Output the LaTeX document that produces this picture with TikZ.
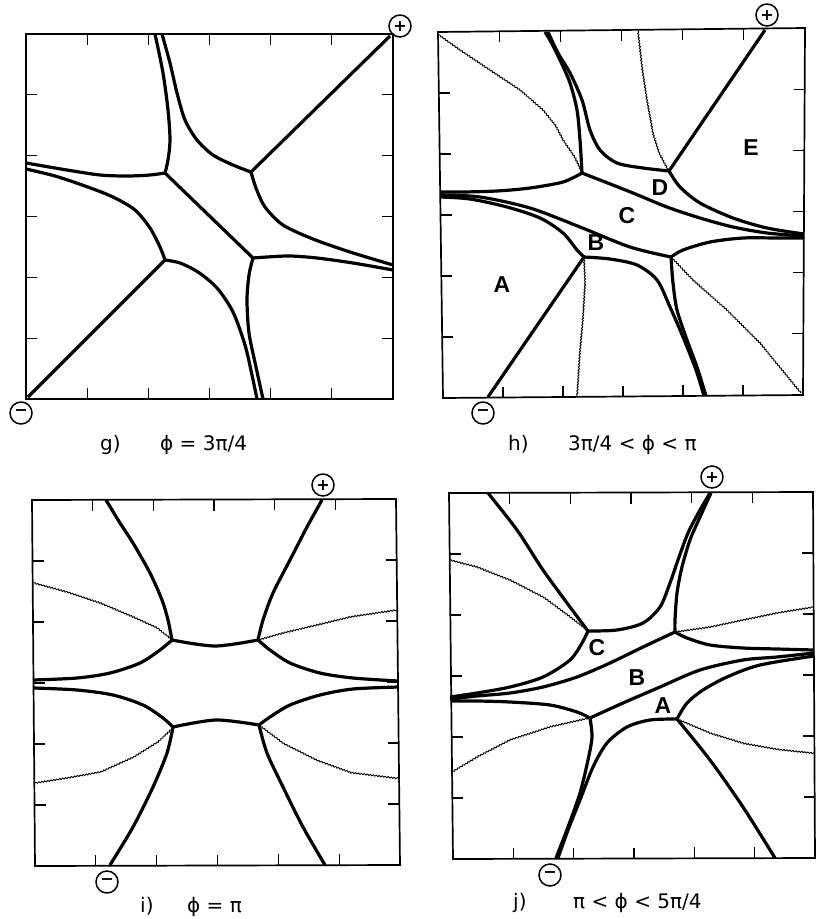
\documentclass[tikz,border=0pt]{standalone}
\usepackage{fontspec}
\setmainfont{DejaVu Sans}
\newfontfamily\regionfont{Liberation Sans}
\usetikzlibrary{calc,decorations.pathmorphing}
\newcommand\myframe[4]{%
  \draw[frame] #1 -- #2 -- #3 -- #4 -- cycle;
  \foreach \k in {1,...,5}{
    \draw[tickmark] ($#1!\k/6!#2$) -- ++(0,11);
    \draw[tickmark] ($#4!\k/6!#3$) -- ++(0,-11);
    \draw[tickmark] ($#1!\k/6!#4$) -- ++(11,0);
    \draw[tickmark] ($#2!\k/6!#3$) -- ++(-11,0);
  }}
\begin{document}
\begin{tikzpicture}[x=1pt,y=-1pt,
  frame/.style={line width=1.7pt, line join=miter},
  curve/.style={line width=3.2pt, line join=round},
  wavy/.style={line width=0.9pt, line join=round, decorate, decoration={snake, amplitude=0.7pt, segment length=3pt}},
  tickmark/.style={line width=1.3pt},
  pole/.style={circle, draw, line width=1.5pt, minimum size=22pt, inner sep=0pt, font=\bfseries\fontsize{16}{16}\selectfont},
  region/.style={font=\regionfont\bfseries\fontsize{23}{23}\selectfont},
  capt/.style={font=\fontsize{20}{20}\selectfont, anchor=base west, inner sep=0pt}
]
\useasboundingbox (0,0) rectangle (818,919);

% ================= panel g =================
\myframe{(26,34)}{(393,34)}{(393,399)}{(26,399)}
\coordinate (g1) at (165,173);
\coordinate (g2) at (251,172);
\coordinate (g3) at (165,260);
\coordinate (g4) at (253,258);
\coordinate (gP) at (390,36);
\coordinate (gM) at (28,397);
\draw[curve] (g3) -- (gM);
\draw[curve] (g2) -- (gP);
\draw[curve] (g1) -- (g4);
\draw[curve] plot[smooth] coordinates {(g2) (233,165) (213,155) (197,140) (185,120) (177,93) (170,63) (162,34)};
\draw[curve] plot[smooth] coordinates {(g1) (168,160) (170,140) (168,110) (163,73) (155,34)};
\draw[curve] plot[smooth] coordinates {(g1) (150,175) (127,176) (100,175) (67,170) (26,163)};
\draw[curve] plot[smooth] coordinates {(g3) (160,247) (150,228) (135,210) (113,197) (85,186) (55,176) (26,169)};
\draw[curve] plot[smooth] coordinates {(g3) (180,263) (198,272) (217,288) (233,312) (245,345) (252,375) (257,399)};
\draw[curve] plot[smooth] coordinates {(g2) (256,188) (265,207) (283,225) (313,239) (350,252) (393,265)};
\draw[curve] plot[smooth] coordinates {(g4) (267,257) (290,256) (317,258) (353,263) (393,270)};
\draw[curve] plot[smooth] coordinates {(g4) (249,275) (247,300) (249,333) (256,367) (263,399)};
\node[pole] (gplus) at (400,26) {+};
\node[pole] (gminus) at (21,413) {\raisebox{1pt}{−}};
\node[capt] (gl) at (100,450) {g)};
\node[capt] (gt) at (160,450) {ϕ = 3π/4};

% ================= panel h =================
\myframe{(438,32)}{(805,28)}{(803,395)}{(443,398)}
\coordinate (hD) at (669,171);
\coordinate (hU) at (582,173);
\coordinate (hB) at (584,257);
\coordinate (hR) at (671,257);
\coordinate (hP) at (765,30);
\coordinate (hM) at (488,397);
\draw[curve] (hD) -- (hP);
\draw[curve] (hB) -- (hM);
\draw[curve] plot[smooth] coordinates {(hD) (643,168) (617,163) (600,150) (590,130) (582,100) (570,73) (558,53) (548,32)};
\draw[curve] plot[smooth] coordinates {(hU) (580,140) (577,110) (570,83) (560,60) (551,42) (545,32)};
\draw[curve] plot[smooth] coordinates {(hU) (563,182) (530,188) (497,191) (463,192) (440,192)};
\draw[curve] plot[smooth] coordinates {(hU) (600,180) (633,193) (667,207) (700,218) (733,227) (767,233) (804,236)};
\draw[curve] plot[smooth] coordinates {(hD) (680,187) (700,203) (733,218) (767,228) (804,234)};
\draw[curve] plot[smooth] coordinates {(440,195) (480,197) (530,208) (580,227) (630,247) (hR)};
\draw[curve] plot[smooth] coordinates {(hB) (577,250) (563,233) (540,218) (507,207) (470,199) (440,197)};
\draw[curve] plot[smooth] coordinates {(hR) (683,250) (710,242) (743,238) (777,238) (804,238)};
\draw[curve] plot[smooth] coordinates {(hB) (610,259) (637,265) (657,280) (670,307) (683,337) (696,370) (704,396)};
\draw[curve] plot[smooth] coordinates {(hR) (673,283) (677,310) (687,340) (697,367) (706,396)};
\draw[wavy] (439,35) -- (460,50) -- (493,72) -- (520,90) -- (543,110) -- (555,125) -- (563,140) -- (574,156) -- (hU);
\draw[wavy] (638,31) -- (642,67) -- (647,100) -- (653,133) -- (659,152) -- (hD);
\draw[wavy] (hB) -- (585,283) -- (583,317) -- (580,350) -- (577,396);
\draw[wavy] (hR) -- (693,280) -- (727,310) -- (760,343) -- (801,393);
\node[region] (hE) at (751,148) {E};
\node[region] (hDl) at (660,188) {D};
\node[region] (hCl) at (627,216) {C};
\node[region] (hBl) at (596,243) {B};
\node[region] (hAl) at (502,285) {A};
\node[pole] (hplus) at (767,15) {+};
\node[pole] (hminus) at (483,413) {\raisebox{1pt}{−}};
\node[capt] (hl) at (508,450) {h)};
\node[capt] (ht) at (568,450) {3π/4 < ϕ < π};

% ================= panel i =================
\myframe{(32,500)}{(396,499)}{(400,865)}{(35,866)}
\coordinate (iUL) at (172,640);
\coordinate (iUR) at (258,640);
\coordinate (iLL) at (173,727);
\coordinate (iLR) at (259,725);
\draw[curve] plot[smooth] coordinates {(iUL) (215,646) (iUR)};
\draw[curve] plot[smooth] coordinates {(iLL) (216,720) (iLR)};
\draw[curve] plot[smooth] coordinates {(iUL) (168,620) (162,600) (150,573) (133,543) (120,523) (106,500)};
\draw[curve] plot[smooth] coordinates {(iUR) (263,620) (273,593) (290,560) (307,527) (322,500)};
\draw[curve] plot[smooth] coordinates {(iUL) (160,650) (140,663) (110,673) (77,678) (33,680)};
\draw[curve] plot[smooth] coordinates {(iUR) (270,650) (290,663) (320,673) (353,678) (398,681)};
\draw[curve] plot[smooth] coordinates {(iLL) (163,718) (143,705) (113,695) (77,690) (34,688)};
\draw[curve] plot[smooth] coordinates {(iLR) (270,717) (290,705) (320,695) (353,689) (399,687)};
\draw[curve] plot[smooth] coordinates {(iLL) (167,753) (153,787) (133,827) (110,865)};
\draw[curve] plot[smooth] coordinates {(iLR) (267,753) (283,787) (303,827) (325,865)};
\draw[wavy] (34,583) -- (67,592) -- (100,603) -- (133,617) -- (157,628) -- (iUL);
\draw[wavy] (iUR) -- (283,633) -- (317,625) -- (350,617) -- (397,610);
\draw[wavy] (35,783) -- (67,778) -- (100,772) -- (133,757) -- (157,742) -- (iLL);
\draw[wavy] (iLR) -- (283,743) -- (317,760) -- (350,772) -- (399,778);
\node[pole] (iplus) at (323,485) {+};
\node[pole] (iminus) at (107,882) {\raisebox{1pt}{−}};
\node[capt] (il) at (140,912) {i)};
\node[capt] (it) at (187,912) {ϕ = π};

% ================= panel j =================
\myframe{(449,493)}{(813,492)}{(815,858)}{(453,859)}
\coordinate (jC) at (588,631);
\coordinate (jU) at (675,632);
\coordinate (jL) at (590,718);
\coordinate (jA) at (677,719);
\draw[curve] plot[smooth] coordinates {(jC) (570,607) (543,570) (517,530) (488,493)};
\draw[curve] plot[smooth] coordinates {(jC) (617,630) (643,623) (660,607) (670,583) (678,560) (688,533) (700,510) (710,493)};
\draw[curve] plot[smooth] coordinates {(jU) (675,620) (677,593) (682,567) (690,540) (700,517) (711,493)};
\draw[curve] plot[smooth] coordinates {(jC) (582,643) (570,660) (543,677) (510,687) (477,693) (450,697)};
\draw[curve] plot[smooth] coordinates {(jU) (643,647) (610,663) (577,677) (543,687) (510,693) (477,696) (450,699)};
\draw[curve] plot[smooth] coordinates {(jL) (623,703) (660,687) (700,670) (743,660) (777,657) (814,653)};
\draw[curve] plot[smooth] coordinates {(jU) (687,638) (710,645) (743,648) (777,649) (814,650)};
\draw[curve] plot[smooth] coordinates {(jA) (687,703) (703,690) (727,677) (760,665) (814,656)};
\draw[curve] plot[smooth] coordinates {(jL) (577,712) (550,705) (510,702) (477,701) (451,701)};
\draw[curve] plot[smooth] coordinates {(jL) (592,737) (588,760) (580,793) (568,827) (556,858)};
\draw[curve] plot[smooth] coordinates {(jA) (650,720) (627,727) (607,743) (593,767) (580,800) (568,830) (558,858)};
\draw[curve] plot[smooth] coordinates {(jA) (710,760) (743,807) (775,858)};
\draw[wavy] (450,560) -- (477,567) -- (510,580) -- (543,597) -- (570,617) -- (jC);
\draw[wavy] (jU) -- (710,627) -- (743,620) -- (777,613) -- (814,607);
\draw[wavy] (452,772) -- (477,757) -- (510,740) -- (550,727) -- (jL);
\draw[wavy] (jA) -- (710,733) -- (743,743) -- (777,749) -- (815,753);
\node[region] (jCl) at (597,648) {C};
\node[region] (jBl) at (637,678) {B};
\node[region] (jAl) at (663,706) {A};
\node[pole] (jplus) at (712,477) {+};
\node[pole] (jminus) at (550,875) {\raisebox{1pt}{−}};
\node[capt] (jl) at (513,908) {j)};
\node[capt] (jt) at (573,908) {π < ϕ < 5π/4};
\end{tikzpicture}
\end{document}
